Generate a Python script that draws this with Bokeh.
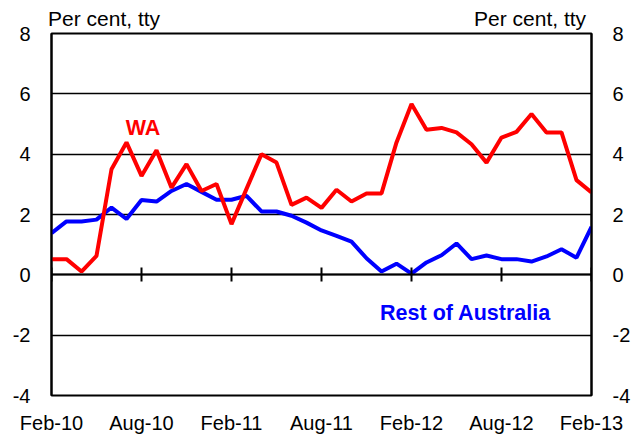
from bokeh.plotting import figure
from bokeh.models import LinearAxis, FixedTicker, Label, Range1d, ColumnDataSource
from bokeh.embed import file_html
from bokeh.resources import INLINE

# Months since Feb-2010 (Feb-10 .. Feb-13)
tick_months = [0, 6, 12, 18, 24, 30, 36]
tick_labels = ["Feb-10", "Aug-10", "Feb-11", "Aug-11", "Feb-12", "Aug-12", "Feb-13"]
y_ticks = [-4, -2, 0, 2, 4, 6, 8]
y_tick_labels = ["-4", "-2", "0", "2", "4", "6", "8"]
unit_label = "Per  cent, tty"

wa = [0.52, 0.52, 0.11, 0.63, 3.50, 4.39, 3.28, 4.13, 2.89, 3.67, 2.78, 3.01, 1.68,
      2.85, 4.00, 3.72, 2.32, 2.56, 2.22, 2.82, 2.43, 2.70, 2.70, 4.39, 5.66, 4.81,
      4.87, 4.72, 4.33, 3.72, 4.55, 4.74, 5.33, 4.72, 4.72, 3.14, 2.73]
rest = [1.38, 1.77, 1.77, 1.83, 2.23, 1.85, 2.48, 2.43, 2.78, 3.01, 2.75, 2.49, 2.49,
        2.62, 2.10, 2.10, 1.96, 1.73, 1.47, 1.29, 1.10, 0.55, 0.11, 0.37, 0.04, 0.41,
        0.65, 1.04, 0.52, 0.64, 0.52, 0.52, 0.44, 0.61, 0.85, 0.57, 1.59]
months = list(range(len(wa)))

FONT = "Liberation Sans"

src = ColumnDataSource(dict(m=months, wa=wa, rest=rest))

p = figure(width=642, height=436, output_backend="svg", toolbar_location=None,
           x_range=Range1d(0, 36), y_range=Range1d(-4, 8),
           x_axis_location=None, y_axis_location=None,
           min_border_left=51, min_border_right=51, min_border_top=33, min_border_bottom=41)
p.background_fill_color = "white"
p.border_fill_color = "white"
p.outline_line_color = "black"
p.outline_line_width = 2
p.xgrid.visible = False

yt = FixedTicker(ticks=y_ticks)
xt = FixedTicker(ticks=tick_months)

for side in ("left", "right"):
    ax = LinearAxis(ticker=yt)
    ax.axis_line_color = "black"
    ax.axis_line_width = 2
    ax.major_tick_in = 0
    ax.major_tick_out = 0
    ax.minor_tick_line_color = None
    ax.major_label_standoff = 21
    ax.major_label_overrides = {t: l for t, l in zip(y_ticks, y_tick_labels)}
    ax.major_label_text_font = FONT
    ax.major_label_text_font_size = "20px"
    ax.major_label_text_color = "black"
    p.add_layout(ax, side)

# axis line through zero with crossing ticks
zax = LinearAxis(ticker=xt, fixed_location=0)
zax.axis_line_color = "black"
zax.axis_line_width = 2
zax.major_tick_in = 7
zax.major_tick_out = 7
zax.major_tick_line_width = 2
zax.minor_tick_line_color = None
zax.major_label_overrides = {m: "" for m in tick_months}
zax.major_label_text_font_size = "1px"
zax.major_label_standoff = 0
p.add_layout(zax, "below")

# bottom labels
bax = LinearAxis(ticker=xt)
bax.axis_line_color = None
bax.major_tick_line_color = None
bax.minor_tick_line_color = None
bax.major_tick_out = 0
bax.major_tick_in = 0
bax.major_label_standoff = 16
bax.major_label_overrides = {m: l for m, l in zip(tick_months, tick_labels)}
bax.major_label_text_font = FONT
bax.major_label_text_font_size = "20px"
bax.major_label_text_color = "black"
p.add_layout(bax, "below")

# unit labels above the frame (left- and right-hand scales)
unit_pos = [3.7, 32.1]
tax = LinearAxis(ticker=FixedTicker(ticks=unit_pos))
tax.axis_line_color = None
tax.major_tick_line_color = None
tax.minor_tick_line_color = None
tax.major_tick_out = 0
tax.major_tick_in = 0
tax.major_label_standoff = 4
tax.major_label_overrides = {u: unit_label for u in unit_pos}
tax.major_label_text_font = FONT
tax.major_label_text_font_size = "21px"
tax.major_label_text_color = "black"
p.add_layout(tax, "above")

p.ygrid.ticker = yt
p.ygrid.grid_line_color = "black"
p.ygrid.grid_line_width = 1.5

p.line("m", "rest", source=src, line_color="#0000FF", line_width=4)
p.line("m", "wa", source=src, line_color="#FF0000", line_width=4)

p.add_layout(Label(x=6.1, y=4.87, text="WA", text_align="center", text_baseline="middle",
                   text_font=FONT, text_font_size="21.5px", text_font_style="bold", text_color="#FF0000"))
p.add_layout(Label(x=27.6, y=-1.26, text="Rest of Australia", text_align="center", text_baseline="middle",
                   text_font=FONT, text_font_size="21.5px", text_font_style="bold", text_color="#0000FF"))

open("out.html", "w").write(file_html(p, INLINE))
